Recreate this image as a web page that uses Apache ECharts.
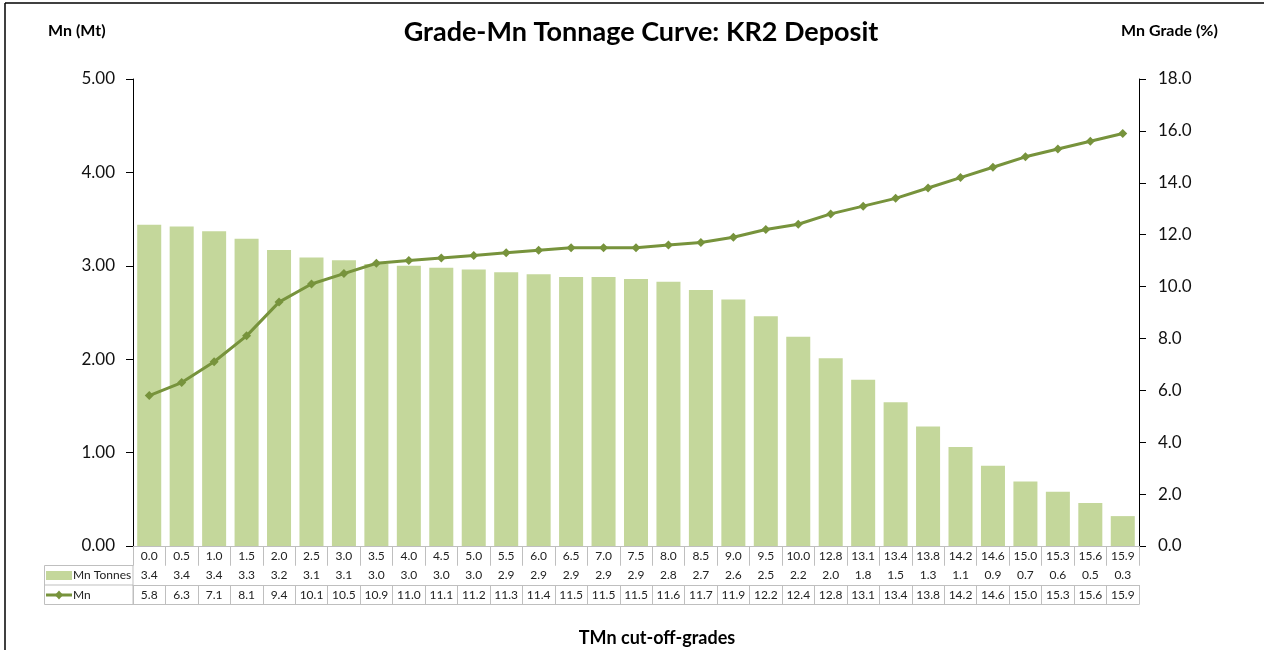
<!DOCTYPE html>
<html>
<head>
<meta charset="utf-8">
<script src="https://cdn.jsdelivr.net/npm/echarts@6/dist/echarts.min.js"></script>
<style>
  html, body { margin: 0; padding: 0; background: #fff; }
  #chart { width: 1264px; height: 650px; }
</style>
</head>
<body>
<div id="chart"></div>
<script>
// cut-off grades (category labels of the data table)
var cutoffs = ["0.0", "0.5", "1.0", "1.5", "2.0", "2.5", "3.0", "3.5", "4.0", "4.5", "5.0",
  "5.5", "6.0", "6.5", "7.0", "7.5", "8.0", "8.5", "9.0", "9.5", "10.0",
  "12.8", "13.1", "13.4", "13.8", "14.2", "14.6", "15.0", "15.3", "15.6", "15.9"];

// Mn tonnes (Mt)
var mnTonnes = [3.44, 3.42, 3.37, 3.29, 3.17, 3.09, 3.06, 3.02, 3.00, 2.98, 2.96,
  2.93, 2.91, 2.88, 2.88, 2.86, 2.83, 2.74, 2.64, 2.46, 2.24,
  2.01, 1.78, 1.54, 1.28, 1.06, 0.86, 0.69, 0.58, 0.46, 0.32];

// Mn grade (%)
var mnGrade = [5.8, 6.3, 7.1, 8.1, 9.4, 10.1, 10.5, 10.9, 11.0, 11.1, 11.2,
  11.3, 11.4, 11.5, 11.5, 11.5, 11.6, 11.7, 11.9, 12.2, 12.4,
  12.8, 13.1, 13.4, 13.8, 14.2, 14.6, 15.0, 15.3, 15.6, 15.9];

var BAR = "#C4D79B";
var LINE = "#77933C";
var CELL = "#BFBFBF";
var FONT = "Lato, 'Open Sans', sans-serif";
var ROW = 19.5;

var chart = echarts.init(document.getElementById("chart"));

// one x axis per table row, stacked under the plot with offset
function tableAxis(row, fmt, showLabel) {
  return {
    type: "category",
    data: cutoffs,
    position: "bottom",
    offset: row * ROW,
    boundaryGap: true,
    axisLine: { show: true, lineStyle: { color: CELL, width: 1 } },
    axisTick: { show: showLabel, length: ROW, lineStyle: { color: CELL } },
    axisLabel: {
      show: showLabel,
      interval: 0,
      margin: 4,
      fontSize: 12,
      fontFamily: FONT,
      color: "#222",
      formatter: fmt
    },
    splitLine: { show: false }
  };
}

chart.setOption({
  animation: false,
  title: [
    {
      text: "Grade-Mn Tonnage Curve: KR2 Deposit",
      left: 636, top: 14, textAlign: "center",
      textStyle: { fontFamily: FONT, fontSize: 27, fontWeight: "bold", color: "#000" }
    },
    {
      text: "Mn (Mt)", left: 43, top: 18,
      textStyle: { fontFamily: FONT, fontSize: 16, fontWeight: "bold", color: "#000" }
    },
    {
      text: "Mn Grade (%)", left: 1116, top: 18,
      textStyle: { fontFamily: FONT, fontSize: 16, fontWeight: "bold", color: "#000" }
    },
    {
      text: "TMn cut-off-grades", left: 652, top: 624, textAlign: "center",
      textStyle: { fontFamily: FONT, fontSize: 18, fontWeight: "bold", color: "#000" }
    }
  ],
  grid: { left: 133, right: 125, top: 79, bottom: 104, containLabel: false },
  xAxis: [
    tableAxis(0, function (v) { return v; }, true),
    tableAxis(1, function (v, i) { return mnTonnes[i].toFixed(1); }, true),
    tableAxis(2, function (v, i) { return mnGrade[i].toFixed(1); }, true),
    tableAxis(3, function () { return ""; }, false)
  ],
  yAxis: [
    {
      type: "value",
      min: 0, max: 5, interval: 1,
      position: "left",
      axisLine: { show: true, lineStyle: { color: "#000", width: 1 } },
      axisTick: { show: true, length: 7, lineStyle: { color: "#000" } },
      axisLabel: {
        margin: 18, fontSize: 17, fontFamily: FONT, color: "#111",
        formatter: function (v) { return v.toFixed(2); }
      },
      splitLine: { show: false }
    },
    {
      type: "value",
      min: 0, max: 18, interval: 2,
      position: "right",
      axisLine: { show: true, lineStyle: { color: "#000", width: 1 } },
      axisTick: { show: true, length: 7, lineStyle: { color: "#000" } },
      axisLabel: {
        margin: 19, fontSize: 17, fontFamily: FONT, color: "#111",
        formatter: function (v) { return v.toFixed(1); }
      },
      splitLine: { show: false }
    }
  ],
  series: [
    {
      name: "Mn Tonnes",
      type: "bar",
      xAxisIndex: 0,
      yAxisIndex: 0,
      data: mnTonnes,
      barCategoryGap: "26%",
      itemStyle: { color: BAR }
    },
    {
      name: "Mn",
      type: "line",
      xAxisIndex: 0,
      yAxisIndex: 1,
      data: mnGrade,
      symbol: "diamond",
      symbolSize: 9,
      lineStyle: { color: LINE, width: 3 },
      itemStyle: { color: LINE }
    }
  ],
  graphic: [
    // chart frame (top and left edges)
    { type: "line", shape: { x1: 5, y1: 3, x2: 1264, y2: 3 }, style: { stroke: "#000", lineWidth: 1.5 } },
    { type: "line", shape: { x1: 5, y1: 3, x2: 5, y2: 650 }, style: { stroke: "#000", lineWidth: 1.5 } },
    // legend column of the data table
    { type: "rect", shape: { x: 44.5, y: 546 + ROW, width: 88.5, height: ROW * 2 },
      style: { fill: "none", stroke: CELL, lineWidth: 1 } },
    { type: "line", shape: { x1: 44.5, y1: 546 + ROW * 2, x2: 133, y2: 546 + ROW * 2 },
      style: { stroke: CELL, lineWidth: 1 } },
    { type: "rect", shape: { x: 46, y: 571, width: 26, height: 9 }, style: { fill: BAR } },
    { type: "text", x: 73, y: 575.5, style: { text: "Mn Tonnes", font: "12px " + FONT, fill: "#222", verticalAlign: "middle" } },
    { type: "line", shape: { x1: 46, y1: 595, x2: 72, y2: 595 }, style: { stroke: LINE, lineWidth: 3 } },
    { type: "polygon", shape: { points: [[59, 590.5], [63, 595], [59, 599.5], [55, 595]] }, style: { fill: LINE } },
    { type: "text", x: 73, y: 595, style: { text: "Mn", font: "12px " + FONT, fill: "#222", verticalAlign: "middle" } }
  ]
});
</script>
</body>
</html>
